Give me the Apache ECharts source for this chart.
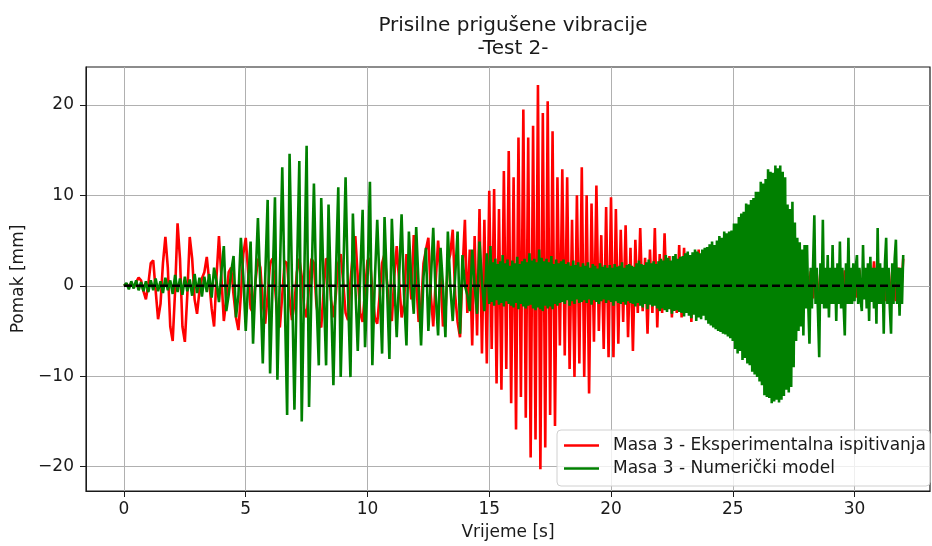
<!DOCTYPE html>
<html>
<head>
<meta charset="utf-8">
<script src="https://cdn.jsdelivr.net/npm/echarts@6/dist/echarts.min.js"></script>
<style>
html,body{margin:0;padding:0;background:#fff;}
#chart{width:932px;height:546px;}
</style>
</head>
<body>
<div id="chart"></div>
<script>
// Sample interval of the experimental series and of the first part of the model series (s)
var sampleStep = 0.1;
// The model series is sampled more finely from this time on (s)
var fineStart = 15;
var fineStep = 0.05;

// Masa 3 - Eksperimentalna ispitivanja (mm), 0 ... 32 s, one row per second
var experimental = [
  0, 0.2, -0.1, 0.3, -0.2, 0.4, 0.9, 0.6, -0.6, -1.5,
  0.2, 2.5, 2.8, -0.5, -3.7, -2.0, 2.5, 5.4, 2.0, -4.5,
  -6.1, -0.5, 6.9, 3.0, -4.5, -6.2, -1.0, 5.4, 3.0, -1.5,
  -3.1, -0.5, 0.8, 1.5, 3.2, 0.5, -2.5, -4.5, 1.0, 5.5,
  1.0, -3.9, -1.5, 1.5, 2.0, -1.0, -3.5, -4.9, -1.0, 3.5,
  5.3, 1.5, -2.5, -3.0, 0.5, 3.0, 2.0, -2.0, -4.2, -1.0,
  2.5, 3.0, 0.0, -3.5, -4.6, -1.0, 2.7, 2.5, -1.5, -3.8,
  -2.0, 1.5, 3.0, 1.0, -2.5, -3.5, 0.0, 3.0, 2.5, -2.0,
  -4.0, -4.6, -0.5, 3.0, 2.8, -1.5, -3.5, -1.0, 2.5, 3.5,
  0.5, -3.0, -3.8, 0.5, 3.5, 5.5, 1.0, -3.0, -4.0, -0.5,
  2.8, 3.0, -0.5, -3.5, -4.2, -1.0, 2.5, 3.5, 0.5, -3.0,
  -3.9, 1.0, 4.4, 0.5, -3.5, -2.0, 3.5, 2.0, -1.5, 5.6,
  0.5, -4.0, -2.5, 2.5, 4.0, 5.3, -1.0, -4.5, 0.5, 5.0,
  1.0, -4.5, -3.0, 2.5, 3.5, 6.2, -1.0, -4.0, -5.7, 1.5,
  7.3, -3.0, 4.0, -6.6, 5.5, -5.5, 8.5, -7.5, 7.3, -8.6,
  10.5, -7.0, 10.7, -10.8, 8.5, -11.5, 12.7, -9.2, 14.9, -13.0,
  12.0, -15.9, 16.4, -12.3, 19.5, -14.6, 16.4, -19.0, 17.7, -17.0,
  22.2, -20.3, 19.1, -17.9, 20.4, -14.3, 17.1, -15.5, 12.0, -6.6,
  12.9, -7.7, 12.0, -9.2, 7.3, -10.1, 10.0, -8.6, 13.1, -10.1,
  10.0, -11.9, 9.1, -6.2, 11.1, -5.0, 5.6, -7.0, 8.7, -7.9,
  9.8, -7.9, 8.5, -6.4, 6.2, -4.0, 6.7, -5.7, 4.2, -7.2,
  5.1, -3.0, 6.4, -2.8, 3.1, -5.3, 4.0, -3.0, 6.4, -4.6,
  3.5, -3.0, 5.8, -2.5, 3.3, -3.5, 2.5, -3.0, 4.5, -3.5,
  4.2, -2.5, 3.0, -4.0, 2.5, -3.0, 4.0, -2.5, 3.0, -3.0,
  3.6, -2.5, 3.0, -3.0, 2.5, -2.5, 3.5, -2.0, 3.0, -3.0,
  3.0, -2.5, 3.5, -3.0, 2.5, -2.0, 3.0, -3.5, 2.5, -3.0,
  3.5, -2.5, 3.0, -3.0, 2.0, -2.5, 3.5, -2.0, 3.0, -3.0,
  2.5, -3.0, 3.5, -2.5, 3.0, -2.0, 2.0, -1.8, 1.8, -1.6,
  1.8, -1.5, 1.6, -1.4, 1.8, -1.6, 1.5, -1.7, 1.8, -1.5,
  1.6, -1.5, 1.8, -1.6, 1.5, -1.4, 1.7, -1.5, 1.8, -1.6,
  1.5, -1.3, 1.8, -1.5, 1.6, -1.4, 1.9, -1.5, 2.7, -1.6,
  1.8, -1.5, 1.6, -1.7, 1.8, -1.4, 1.6, -1.7, 2.0, -1.5,
  3.0
];

// Masa 3 - Numerički model (mm), 0 ... 14.9 s, step sampleStep
var numericalStart = [
  0, 0.3, -0.4, 0.5, -0.3, 0.6, -0.5, 0.4, -0.6, 0.5,
  -0.7, 0.6, -0.5, 0.8, -0.6, 0.5, -0.8, 0.9, -0.5, 0.6,
  -0.9, 1.2, -0.7, 0.8, -1.0, 1.0, -0.6, 0.7, -1.1, 1.3,
  -0.8, 0.9, -1.2, 1.0, -0.7, 1.3, -1.3, 2.0, 0.5, -1.8,
  1.5, 4.4, -2.8, -1.0, 1.5, 3.3, -3.5, -1.0, 5.3, 1.0,
  -5.0, 0.5, 4.9, -6.4, 0.5, 7.5, 0.0, -8.6, 1.0, 9.5,
  -9.7, 0.0, 9.8, -10.4, 1.0, 13.1, -1.0, -14.3, 14.6, 0.5,
  -13.7, 1.0, 13.8, -15.0, 0.5, 15.5, -13.4, 0.0, 11.3, -1.0,
  -8.8, 9.7, 0.0, -8.8, 9.0, -1.0, -11.0, 1.0, 10.9, -10.1,
  0.5, 12.0, -1.0, -10.1, 8.0, 0.0, -7.2, 1.0, 8.4, -6.8,
  0.5, 11.5, -8.8, 0.5, 7.3, 0.0, -7.5, 7.6, 0.0, -8.1,
  7.4, 0.5, -5.7, 1.0, 7.9, -1.0, -6.6, 6.0, 0.5, -3.1,
  6.5, 0.0, -6.6, 1.0, 4.2, -5.0, 0.5, 6.4, -1.0, -5.5,
  4.2, 0.0, -5.7, 6.0, 0.0, -3.9, 1.0, 6.0, -5.3, 3.4,
  0.0, -1.0, -2.8, 4.0, 0.0, -3.1, 4.9, 0.5, -2.8, 3.6
];

// Masa 3 - Numerički model (mm), 15 ... 32 s, step fineStep, one row per second
var numericalFine = [
  -2.0, 4.4, -1.8, 2.6, -2.2, 3.0, -1.6, 2.4, -2.1, 2.7, -1.9, 3.4, -2.3, 2.5, -1.7, 2.9, -2.0, 2.2, -2.2, 2.8,
  -2.4, 2.5, -1.9, 3.2, -2.6, 2.4, -2.0, 2.7, -2.3, 3.0, -2.5, 2.6, -2.2, 3.6, -2.1, 2.8, -2.5, 3.0, -2.7, 2.6,
  -2.4, 4.0, -2.6, 3.1, -2.8, 2.7, -2.2, 3.0, -2.5, 2.6, -2.3, 3.3, -2.6, 2.4, -2.0, 2.9, -2.2, 2.5, -1.9, 2.7,
  -1.8, 2.9, -2.0, 2.4, -1.6, 2.6, -2.2, 2.2, -1.7, 2.8, -2.0, 2.3, -1.5, 2.6, -1.9, 2.1, -1.8, 2.5, -1.6, 2.2,
  -1.9, 2.6, -1.5, 2.0, -2.1, 2.4, -1.6, 2.2, -1.8, 1.9, -2.0, 2.5, -1.7, 2.1, -1.5, 2.3, -1.9, 2.0, -1.6, 2.3,
  -1.8, 2.0, -2.2, 2.4, -1.7, 2.1, -1.9, 2.2, -2.0, 2.6, -1.8, 2.0, -2.1, 2.3, -1.7, 2.4, -1.9, 2.2, -2.0, 2.1,
  -2.3, 2.5, -1.9, 2.8, -2.2, 2.4, -2.4, 2.3, -2.0, 2.6, -2.6, 2.9, -2.1, 2.5, -2.3, 2.7, -2.2, 2.4, -2.5, 2.7,
  -2.8, 3.0, -2.5, 2.8, -2.7, 3.4, -2.9, 3.1, -2.6, 2.8, -3.1, 3.3, -2.8, 3.5, -2.7, 3.0, -2.9, 3.2, -3.0, 3.3,
  -3.4, 3.6, -3.0, 3.8, -3.3, 3.4, -3.6, 3.7, -3.2, 4.0, -3.9, 3.8, -3.5, 3.6, -3.7, 4.0, -3.3, 4.2, -3.8, 4.3,
  -4.2, 4.6, -4.4, 4.9, -4.6, 4.5, -4.8, 5.0, -5.0, 5.5, -5.1, 5.3, -5.3, 6.0, -5.4, 5.8, -5.6, 6.0, -5.8, 6.1,
  -6.1, 6.9, -7.0, 6.9, -7.5, 7.6, -7.2, 8.0, -8.2, 8.2, -8.0, 9.1, -8.6, 9.0, -8.8, 9.5, -9.5, 9.7, -9.8, 10.4,
  -10.1, 10.4, -10.6, 11.5, -11.0, 11.3, -12.1, 11.8, -12.3, 12.9, -12.4, 12.6, -13.0, 12.5, -12.8, 13.3, -12.6, 13.0, -12.9, 13.3,
  -12.6, 12.6, -12.2, 12.0, -11.5, 9.0, -11.8, 8.5, -11.2, 9.3, -9.0, 7.0, -6.1, 5.3, -5.0, 4.8, -4.5, 4.0, -5.5, 4.5,
  -2.5, 4.5, -2.0, -6.4, 2.0, -2.5, 2.5, 7.8, -2.0, 2.0, -3.0, -7.9, 2.5, -2.0, 7.3, -2.5, 2.0, -2.5, 3.4, -3.5,
  2.0, -2.0, 4.5, -2.0, 2.0, -3.9, 2.5, -2.0, 4.9, -2.5, 2.0, -2.0, -5.5, 2.5, -2.0, 5.3, -2.0, 2.0, -2.0, 2.5,
  -1.7, 2.0, 3.4, -2.0, 2.0, -1.5, -2.8, 4.5, -1.5, 2.0, -2.5, 2.5, -3.9, 3.2, -1.8, 2.0, -2.5, 2.0, -4.2, 6.4,
  -2.0, 2.5, -2.0, 2.0, -5.3, 2.5, 5.3, -2.0, 2.0, -2.5, -5.3, 2.5, -2.0, 3.0, 5.1, -2.0, 2.0, -3.3, 2.0, -2.0,
  3.4
];

// Zero reference line (start and end time, s)
var referenceSpan = [0, 32];

// Axis tick values
var xTicks = [0, 5, 10, 15, 20, 25, 30];
var yTicks = [-20, -10, 0, 10, 20];

var titleText = 'Prisilne prigušene vibracije\n-Test 2-';
var xTitle = 'Vrijeme [s]';
var yTitle = 'Pomak [mm]';
var seriesNames = ['Masa 3 - Eksperimentalna ispitivanja', 'Masa 3 - Numerički model'];

function toPairs(values, start, step) {
  return values.map(function (v, i) { return [Math.round((start + i * step) * 100) / 100, v]; });
}
function tickText(v) { return String(v).replace('-', '\u2212'); }

var experimentalData = toPairs(experimental, 0, sampleStep);
var numericalData = toPairs(numericalStart, 0, sampleStep).concat(toPairs(numericalFine, fineStart, fineStep));

var font = 'DejaVu Sans';
var ink = '#1a1a1a';
var chart = echarts.init(document.getElementById('chart'), null, {renderer: 'canvas'});
chart.setOption({
  animation: false,
  backgroundColor: '#fff',
  textStyle: {fontFamily: font},
  title: {
    text: titleText,
    left: 508, top: 9, textAlign: 'center',
    textStyle: {fontFamily: font, fontSize: 20, fontWeight: 'normal', color: ink, lineHeight: 23}
  },
  grid: {left: 86, right: 2, top: 67, bottom: 51, show: true, borderColor: ink, borderWidth: 1.2, backgroundColor: 'transparent'},
  legend: {
    orient: 'vertical', right: 2, bottom: 60,
    data: seriesNames,
    icon: 'rect', itemWidth: 35, itemHeight: 2.5,
    itemGap: 6,
    padding: [7, 4, 9, 7],
    backgroundColor: 'rgba(255,255,255,0.8)',
    borderColor: '#d0d0d0', borderWidth: 1, borderRadius: 4,
    textStyle: {fontFamily: font, fontSize: 17, color: ink, padding: [0, 0, 0, 9]}
  },
  xAxis: {
    type: 'value', min: -1.56, max: 33.1,
    name: xTitle, nameLocation: 'middle', nameGap: 33,
    nameTextStyle: {fontFamily: font, fontSize: 17, color: ink},
    axisLine: {show: true, onZero: false, lineStyle: {color: ink}},
    axisTick: {show: true, customValues: xTicks, length: 6, lineStyle: {color: ink}},
    axisLabel: {customValues: xTicks, formatter: tickText, fontFamily: font, fontSize: 17, color: ink, margin: 10},
    splitLine: {show: true, lineStyle: {color: '#b0b0b0', width: 1}}
  },
  yAxis: {
    type: 'value', min: -22.7, max: 24.2,
    name: yTitle, nameLocation: 'middle', nameGap: 57,
    nameTextStyle: {fontFamily: font, fontSize: 17, color: ink},
    axisLine: {show: true, onZero: false, lineStyle: {color: ink}},
    axisTick: {show: true, customValues: yTicks, length: 6, lineStyle: {color: ink}},
    axisLabel: {customValues: yTicks, formatter: tickText, fontFamily: font, fontSize: 17, color: ink, margin: 12},
    splitLine: {show: true, lineStyle: {color: '#b0b0b0', width: 1}}
  },
  series: [
    {
      name: seriesNames[0], type: 'line', data: experimentalData,
      showSymbol: false, symbol: 'none', color: '#ff0000',
      lineStyle: {color: '#ff0000', width: 2.6}, itemStyle: {color: '#ff0000'}, z: 2
    },
    {
      name: seriesNames[1], type: 'line', data: numericalData,
      showSymbol: false, symbol: 'none', color: '#008000',
      lineStyle: {color: '#008000', width: 2.6}, itemStyle: {color: '#008000'}, z: 3
    },
    {
      name: 'zero', type: 'line', data: referenceSpan.map(function (t) { return [t, 0]; }),
      showSymbol: false, symbol: 'none', silent: true,
      lineStyle: {color: '#000', width: 2.4, type: [8, 4]}, z: 4
    }
  ]
});
</script>
</body>
</html>
